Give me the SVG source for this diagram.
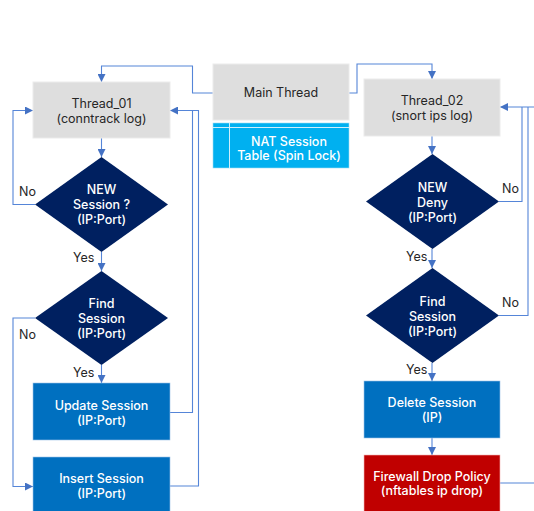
<svg xmlns="http://www.w3.org/2000/svg" width="534" height="511" viewBox="0 0 534 511">
<defs>
<style>
text{font-family:Inter,"Noto Sans","Liberation Sans",sans-serif;font-size:12.5px;text-anchor:middle}
.g{fill:#dedede;stroke:#ebebeb;stroke-width:1}
.gt{fill:#262626}
.d{fill:#002060}
.b{fill:#0070c0;stroke:#9dc3e6;stroke-width:0.6}
.r{fill:#c00000;stroke:#f4b6b6;stroke-width:0.6}
.wt{fill:#ffffff;font-weight:500}
.lbl{fill:#262626;text-anchor:start}
.c{fill:none;stroke:#5585d8;stroke-width:1.1}
</style>
<marker id="a" viewBox="0 0 10 10" refX="10" refY="5" markerWidth="8" markerHeight="8" markerUnits="userSpaceOnUse" orient="auto">
<path d="M0,0 L10,5 L0,10 z" fill="#4472c4"/>
</marker>
</defs>
<rect width="534" height="511" fill="#ffffff"/>

<g id="connectors">
<polyline class="c" points="213,93 192.5,93 192.5,66 101.5,66 101.5,82" marker-end="url(#a)"/>
<polyline class="c" points="349,93 357,93 357,64 432,64 432,79" marker-end="url(#a)"/>
<line class="c" x1="101.5" y1="138" x2="101.5" y2="157" marker-end="url(#a)"/>
<polyline class="c" points="35,204.5 13,204.5 13,110.5 33,110.5" marker-end="url(#a)"/>
<line class="c" x1="101.5" y1="252" x2="101.5" y2="271" marker-end="url(#a)"/>
<polyline class="c" points="35,318 13,318 13,486.5 33,486.5" marker-end="url(#a)"/>
<line class="c" x1="101.5" y1="365" x2="101.5" y2="383" marker-end="url(#a)"/>
<polyline class="c" points="170,412.5 192.5,412.5 192.5,110.5"/>
<polyline class="c" points="170,486 198.5,486 198.5,110.5 170,110.5" marker-end="url(#a)"/>
<line class="c" x1="432" y1="136" x2="432" y2="154" marker-end="url(#a)"/>
<polyline class="c" points="499,201.5 522,201.5 522,107"/>
<line class="c" x1="432" y1="249" x2="432" y2="268" marker-end="url(#a)"/>
<polyline class="c" points="499,315.5 528,315.5 528,107"/>
<polyline class="c" points="500,483 540,483 540,107 500,107" marker-end="url(#a)"/>
<line class="c" x1="432" y1="363" x2="432" y2="381" marker-end="url(#a)"/>
<line class="c" x1="432" y1="438" x2="432" y2="455" marker-end="url(#a)"/>
</g>

<g id="labels">
<text class="lbl" x="19" y="196">No</text>
<text class="lbl" x="73" y="262">Yes</text>
<text class="lbl" x="19" y="339">No</text>
<text class="lbl" x="73" y="377">Yes</text>
<text class="lbl" x="502" y="193">No</text>
<text class="lbl" x="406" y="261">Yes</text>
<text class="lbl" x="502" y="307">No</text>
<text class="lbl" x="406" y="374">Yes</text>
</g>

<g id="main-thread">
<rect class="g" x="213" y="64" width="136" height="56"/>
<text class="gt" x="281" y="97">Main Thread</text>
</g>

<g id="nat-table">
<rect x="213" y="123" width="136" height="45" fill="#00b0f0" stroke="#9ddcf5" stroke-width="0.6"/>
<line x1="213" y1="127.5" x2="349" y2="127.5" stroke="#cfeefc" stroke-width="1"/>
<line x1="229.5" y1="123" x2="229.5" y2="168" stroke="#cfeefc" stroke-width="1"/>
<text class="wt" x="289" y="145.5">NAT Session</text>
<text class="wt" x="289" y="160">Table (Spin Lock)</text>
</g>

<g id="thread-01">
<rect class="g" x="33" y="82" width="137" height="56"/>
<text class="gt" x="101.5" y="107.5">Thread_01</text>
<text class="gt" x="101.5" y="122.5">(conntrack log)</text>
</g>

<g id="new-session">
<polygon class="d" points="101.5,157 168,204.5 101.5,252 35,204.5"/>
<text class="wt" x="101.5" y="193.5">NEW</text>
<text class="wt" x="101.5" y="208.5">Session ?</text>
<text class="wt" x="101.5" y="223.5">(IP:Port)</text>
</g>

<g id="find-session-1">
<polygon class="d" points="101.5,271 168,318 101.5,365 35,318"/>
<text class="wt" x="101.5" y="307.5">Find</text>
<text class="wt" x="101.5" y="322.5">Session</text>
<text class="wt" x="101.5" y="337.5">(IP:Port)</text>
</g>

<g id="update-session">
<rect class="b" x="33" y="383" width="137" height="57"/>
<text class="wt" x="101.5" y="409.5">Update Session</text>
<text class="wt" x="101.5" y="424.5">(IP:Port)</text>
</g>

<g id="insert-session">
<rect class="b" x="33" y="457" width="137" height="60"/>
<text class="wt" x="101.5" y="482.5">Insert Session</text>
<text class="wt" x="101.5" y="497.5">(IP:Port)</text>
</g>

<g id="thread-02">
<rect class="g" x="364" y="79" width="136" height="57"/>
<text class="gt" x="432" y="105">Thread_02</text>
<text class="gt" x="432" y="120">(snort ips log)</text>
</g>

<g id="new-deny">
<polygon class="d" points="432.5,154 499,201.5 432.5,249 366,201.5"/>
<text class="wt" x="432.5" y="191.5">NEW</text>
<text class="wt" x="432.5" y="206.5">Deny</text>
<text class="wt" x="432.5" y="221.5">(IP:Port)</text>
</g>

<g id="find-session-2">
<polygon class="d" points="432.5,268 499,315.5 432.5,363 366,315.5"/>
<text class="wt" x="432.5" y="305.5">Find</text>
<text class="wt" x="432.5" y="320.5">Session</text>
<text class="wt" x="432.5" y="335.5">(IP:Port)</text>
</g>

<g id="delete-session">
<rect class="b" x="364" y="381" width="136" height="57"/>
<text class="wt" x="432" y="406.5">Delete Session</text>
<text class="wt" x="432" y="422">(IP)</text>
</g>

<g id="firewall-drop">
<rect class="r" x="364" y="455" width="136" height="60"/>
<text class="wt" x="432" y="480.5">Firewall Drop Policy</text>
<text class="wt" x="432" y="495">(nftables ip drop)</text>
</g>
</svg>
